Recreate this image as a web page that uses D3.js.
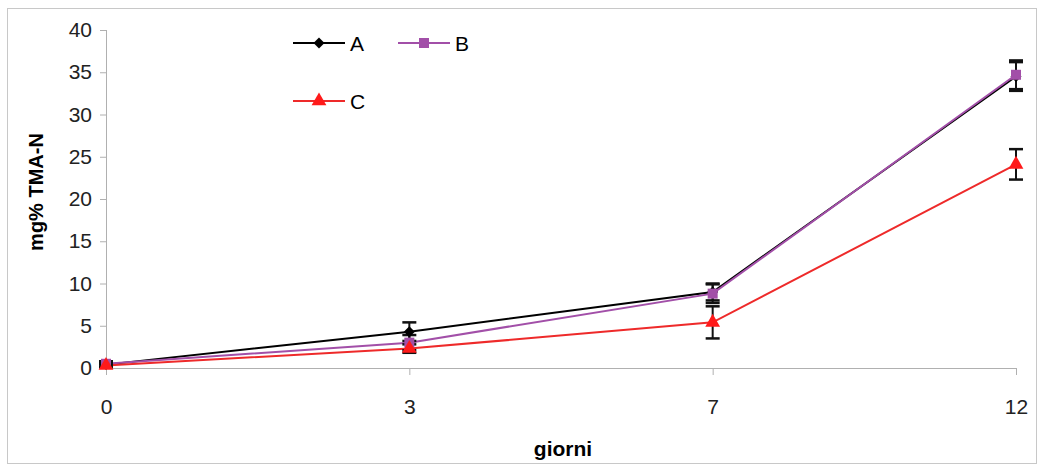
<!DOCTYPE html>
<html>
<head>
<meta charset="utf-8">
<script src="https://cdn.jsdelivr.net/npm/d3@7"></script>
<style>
  body { margin: 0; background: #fff; }
  #chart { width: 1042px; height: 473px; }
  text { font-family: "Liberation Sans", Arial, sans-serif; }
  .axis path, .axis line { stroke: #b0b0b0; }
  .axis text { font-size: 21px; fill: #222; }
</style>
</head>
<body>
<div id="chart"></div>
<script>
/* global d3 */
let days = ["0", "3", "7", "12"]
let yTicks = [0, 5, 10, 15, 20, 25, 30, 35, 40]
let seriesNames = ["A", "B", "C"]
let valuesA = [0.4, 4.3, 9.0, 34.5]
let errA = [0.3, 1.1, 1.0, 1.7]
let valuesB = [0.5, 3.0, 8.8, 34.7]
let errB = [0.3, 0.9, 1.1, 1.7]
let valuesC = [0.3, 2.3, 5.4, 24.1]
let errC = [0.2, 0.5, 1.9, 1.8]

let colors = {A: "#000000", B: "#a24fa8", C: "#ee2a2a"}
let markerFill = {A: "#000000", B: "#a24fa8", C: "#ff1a1a"}
let symbols = {A: d3.symbolSquare, B: d3.symbolSquare, C: d3.symbolTriangle}
let symbolSize = {A: 60, B: 100, C: 95}
let symbolRot = {A: 45, B: 0, C: 0}

let series = [
  {key: "A", values: valuesA, err: errA},
  {key: "B", values: valuesB, err: errB},
  {key: "C", values: valuesC, err: errC}
]

let width = 1042, height = 473
let svg = d3.select("#chart").append("svg")
  .attr("width", width)
  .attr("height", height)

// outer frame
svg.append("rect")
  .attr("x", 7.5).attr("y", 8.5)
  .attr("width", 1029).attr("height", 455)
  .attr("fill", "none")
  .attr("stroke", "#c8c8c8")

let xScale = d3.scalePoint()
  .domain(days)
  .range([106, 1016])

let yScale = d3.scaleLinear()
  .domain([0, 40])
  .range([368, 30])

let xAxis = d3.axisBottom(xScale).tickSize(7).tickPadding(24)
let yAxis = d3.axisLeft(yScale).tickValues(yTicks).tickSize(6).tickPadding(8)

svg.append("g")
  .attr("class", "x axis")
  .attr("transform", "translate(0,368)")
  .call(xAxis)

svg.append("g")
  .attr("class", "y axis")
  .attr("transform", "translate(106,0)")
  .call(yAxis)
  .select(".domain").remove()

svg.append("line")
  .attr("x1", 106.5).attr("x2", 106.5)
  .attr("y1", yScale(40)).attr("y2", yScale(0))
  .attr("stroke", "#b0b0b0")

svg.append("text")
  .attr("transform", "translate(43,192),rotate(-90)")
  .attr("text-anchor", "middle")
  .style("font-size", "20px")
  .style("font-weight", "bold")
  .text("mg% TMA-N")

svg.append("text")
  .attr("x", 563).attr("y", 456)
  .attr("text-anchor", "middle")
  .style("font-size", "21px")
  .style("font-weight", "bold")
  .text("giorni")

let line = d3.line()
  .x((d, i) => xScale(days[i]))
  .y(d => yScale(d))

// lines
svg.selectAll(".series-line")
  .data(series)
  .enter().append("path")
  .attr("class", "series-line")
  .attr("d", d => line(d.values))
  .attr("fill", "none")
  .attr("stroke", d => colors[d.key])
  .attr("stroke-width", 2)

// error bars
series.forEach(function(s) {
  let g = svg.append("g").attr("class", "err-" + s.key)
  s.values.forEach(function(v, i) {
    let x = xScale(days[i])
    let top = yScale(v + s.err[i])
    let bot = yScale(v - s.err[i])
    g.append("line").attr("x1", x).attr("x2", x).attr("y1", top).attr("y2", bot)
      .attr("stroke", "#111").attr("stroke-width", 2)
    g.append("line").attr("x1", x - 7).attr("x2", x + 7).attr("y1", top).attr("y2", top)
      .attr("stroke", "#111").attr("stroke-width", 2.5)
    g.append("line").attr("x1", x - 7).attr("x2", x + 7).attr("y1", bot).attr("y2", bot)
      .attr("stroke", "#111").attr("stroke-width", 2.5)
  })
})

// markers
series.forEach(function(s) {
  svg.selectAll(".pt-" + s.key)
    .data(s.values)
    .enter().append("path")
    .attr("class", "pt-" + s.key)
    .attr("transform", (d, i) => "translate(" + xScale(days[i]) + "," + yScale(d) + ") rotate(" + symbolRot[s.key] + ")")
    .attr("d", d3.symbol().type(symbols[s.key]).size(symbolSize[s.key]))
    .attr("fill", markerFill[s.key])
})

// legend
let legendPos = [
  {key: "A", x: 293, y: 43},
  {key: "B", x: 398, y: 43},
  {key: "C", x: 293, y: 101}
]
let legend = svg.selectAll(".legend-item")
  .data(legendPos)
  .enter().append("g")
  .attr("class", "legend-item")
  .attr("transform", d => "translate(" + d.x + "," + d.y + ")")
legend.append("line")
  .attr("x1", 0).attr("x2", 52)
  .attr("stroke", d => colors[d.key])
  .attr("stroke-width", 2)
legend.append("path")
  .attr("transform", d => "translate(26,0) rotate(" + symbolRot[d.key] + ")")
  .attr("d", d => d3.symbol().type(symbols[d.key]).size(symbolSize[d.key])())
  .attr("fill", d => markerFill[d.key])
legend.append("text")
  .attr("x", 57).attr("y", 8)
  .style("font-size", "21px")
  .text(d => d.key)
</script>
</body>
</html>
